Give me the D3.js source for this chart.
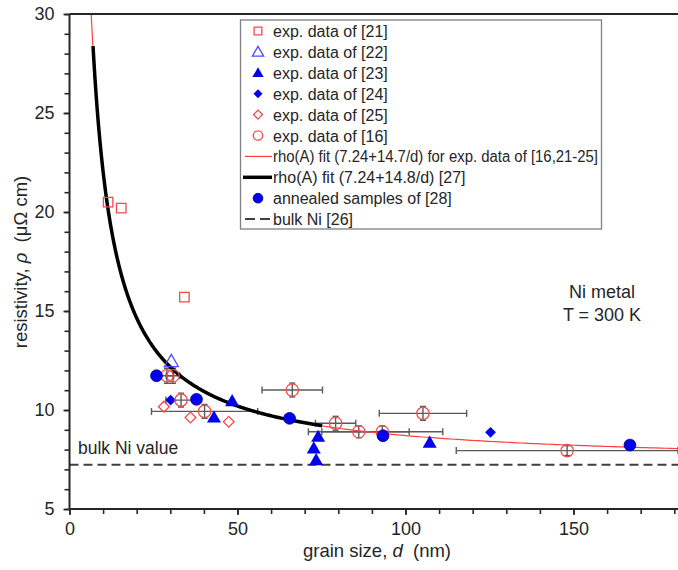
<!DOCTYPE html>
<html>
<head>
<meta charset="utf-8">
<script src="https://cdn.jsdelivr.net/npm/d3@7/dist/d3.min.js"></script>
<style>
  html, body { margin: 0; padding: 0; background: #fff; }
  svg { display: block; font-family: "Liberation Sans", Arial, sans-serif; }
</style>
</head>
<body>
<svg id="chart" width="678" height="570"></svg>
<script>
// Grain size d (nm) vs resistivity rho (µΩ cm) for Ni metal at 300 K
const data21 = [[11.5, 20.5], [15.4, 20.2], [34.2, 15.7]];
const data22 = [[30.3, 12.45]];
const data23 = [[43.0, 9.62], [48.4, 10.45], [74.0, 8.65], [72.7, 8.06], [73.4, 7.47], [107.2, 8.35]];
const data24 = [[30.1, 10.5], [125.3, 8.87]];
const data25 = [[28.1, 10.17], [36.0, 9.62], [47.4, 9.41]];
// [d, rho, d error, rho error]
const data16 = [
  [29.0, 11.73, 2, 0.38], [30.8, 11.73, 2, 0.38], [33.2, 10.5, 4.5, 0.35],
  [40.2, 9.93, 15.8, 0.35], [66.3, 11.01, 9, 0.35], [79.2, 9.33, 6, 0.35],
  [86.1, 8.9, 15, 0.3], [93.1, 8.9, 18, 0.3], [105.2, 9.83, 13, 0.35],
  [148.1, 7.95, 33, 0.25]
];
const data28 = [[25.9, 11.73], [37.8, 10.54], [65.5, 9.58], [93.3, 8.7], [166.8, 8.23]];
const fitA = { a: 7.24, b: 147, from: 6.4, to: 185 };
const fitB = { a: 7.24, b: 148, from: 7.0, to: 75.2 };
const bulkNi = 7.24;
const xTicks = [0, 50, 100, 150];
const yTicks = [5, 10, 15, 20, 25, 30];
const legendItems = [
  "exp. data of [21]", "exp. data of [22]", "exp. data of [23]", "exp. data of [24]",
  "exp. data of [25]", "exp. data of [16]",
  "rho(A) fit (7.24+14.7/d) for exp. data of [16,21-25]",
  "rho(A) fit (7.24+14.8/d) [27]", "annealed samples of [28]", "bulk Ni [26]"
];

const svg = d3.select("#chart");
const x = d3.scaleLinear().domain([0, 180]).range([69.5, 674.3]);
const y = d3.scaleLinear().domain([5, 30]).range([509, 14]);
const axisCol = "#262626";
const red = "#f24a4a";
const blue = "#0000ee";

svg.append("defs").append("clipPath").attr("id", "plotclip")
  .append("rect").attr("x", 69.5).attr("y", 14).attr("width", 608.5).attr("height", 495);

const plot = svg.append("g").attr("clip-path", "url(#plotclip)");

// top frame line
svg.append("line").attr("x1", 69.5).attr("x2", 678).attr("y1", 14).attr("y2", 14)
  .attr("stroke", axisCol).attr("stroke-width", 2);

// axes
const xAxisMinor = d3.axisBottom(x).tickValues(d3.range(0, 181, 10)).tickSize(5).tickFormat("");
const xAxis = d3.axisBottom(x).tickValues(xTicks).tickSize(6).tickPadding(7).tickFormat(d3.format("d"));
const yAxisMinor = d3.axisLeft(y).tickValues(d3.range(5, 31, 1)).tickSize(5).tickFormat("");
const yAxis = d3.axisLeft(y).tickValues(yTicks).tickSize(6).tickPadding(9).tickFormat(d3.format("d"));

function styleAxis(g) {
  g.select(".domain").remove();
  g.selectAll("line").attr("stroke", axisCol).attr("stroke-width", 1.6);
  g.selectAll("text").attr("fill", axisCol).attr("font-size", 18)
    .attr("font-family", "Liberation Sans, Arial, sans-serif");
}
svg.append("g").attr("transform", "translate(0,509)").call(xAxisMinor).call(styleAxis);
svg.append("g").attr("transform", "translate(0,509)").call(xAxis).call(styleAxis);
svg.append("g").attr("transform", "translate(69.5,0)").call(yAxisMinor).call(styleAxis);
svg.append("g").attr("transform", "translate(69.5,0)").call(yAxis).call(styleAxis);
svg.append("line").attr("x1", 69.5).attr("x2", 678).attr("y1", 509).attr("y2", 509)
  .attr("stroke", axisCol).attr("stroke-width", 2);
svg.append("line").attr("x1", 69.5).attr("x2", 69.5).attr("y1", 14).attr("y2", 509)
  .attr("stroke", axisCol).attr("stroke-width", 2);

// axis titles
const xt = svg.append("text").attr("x", 377).attr("y", 557).attr("text-anchor", "middle")
  .attr("font-size", 18.5).attr("fill", axisCol);
xt.append("tspan").text("grain size, ");
xt.append("tspan").attr("font-style", "italic").text("d");
xt.append("tspan").attr("xml:space", "preserve").text("  (nm)");

const yt = svg.append("text").attr("transform", "translate(27,262) rotate(-90)")
  .attr("text-anchor", "middle").attr("font-size", 18.5).attr("fill", axisCol);
yt.append("tspan").text("resistivity, ");
yt.append("tspan").attr("font-style", "italic").text("ρ");
yt.append("tspan").attr("xml:space", "preserve").text("  (μΩ cm)");

// bulk Ni reference
plot.append("line").attr("x1", x(0)).attr("x2", x(185)).attr("y1", y(bulkNi)).attr("y2", y(bulkNi))
  .attr("stroke", "#404040").attr("stroke-width", 2).attr("stroke-dasharray", "9,5");

// error bars
const eb = plot.append("g").attr("stroke", "#5a5a5a").attr("stroke-width", 1.4);
data16.forEach(([d, r, dx, dy]) => {
  eb.append("line").attr("x1", x(d - dx)).attr("x2", x(d + dx)).attr("y1", y(r)).attr("y2", y(r));
  eb.append("line").attr("x1", x(d - dx)).attr("x2", x(d - dx)).attr("y1", y(r) - 3.5).attr("y2", y(r) + 3.5);
  eb.append("line").attr("x1", x(d + dx)).attr("x2", x(d + dx)).attr("y1", y(r) - 3.5).attr("y2", y(r) + 3.5);
  eb.append("line").attr("x1", x(d)).attr("x2", x(d)).attr("y1", y(r - dy)).attr("y2", y(r + dy));
  eb.append("line").attr("x1", x(d) - 3).attr("x2", x(d) + 3).attr("y1", y(r - dy)).attr("y2", y(r - dy));
  eb.append("line").attr("x1", x(d) - 3).attr("x2", x(d) + 3).attr("y1", y(r + dy)).attr("y2", y(r + dy));
});

// fit curves
function fitPath(f) {
  const pts = d3.range(0, 401).map(i => {
    const d = f.from * Math.pow(f.to / f.from, i / 400);
    return [d, f.a + f.b / d];
  });
  return d3.line().x(p => x(p[0])).y(p => y(p[1]))(pts);
}
plot.append("path").attr("d", fitPath(fitA)).attr("fill", "none").attr("stroke", "#ff4040").attr("stroke-width", 1.2);
plot.append("path").attr("d", fitPath(fitB)).attr("fill", "none").attr("stroke", "#000").attr("stroke-width", 3.5);

// marker shapes (diamond = square turned 45 degrees)
const sym = {
  square: d3.symbol().type(d3.symbolSquare).size(90),
  triangle: d3.symbol().type(d3.symbolTriangle).size(85),
  diamond: d3.symbol().type(d3.symbolSquare).size(58),
  circleOpen: d3.symbol().type(d3.symbolCircle).size(120),
  circleFill: d3.symbol().type(d3.symbolCircle).size(110)
};
const markerStyles = [
  { data: data21, path: sym.square, fill: "none", stroke: red, sw: 1.3 },
  { data: data22, path: sym.triangle, fill: "none", stroke: "#4b4bff", sw: 1.3, dy: 1 },
  { data: data23, path: sym.triangle, fill: blue, stroke: "none", sw: 0, dy: 1 },
  { data: data24, path: sym.diamond, fill: blue, stroke: "none", sw: 0, rot: 45 },
  { data: data25, path: sym.diamond, fill: "none", stroke: red, sw: 1.3, rot: 45 },
  { data: data16, path: sym.circleOpen, fill: "none", stroke: red, sw: 1.3 },
  { data: data28, path: sym.circleFill, fill: blue, stroke: "#00008a", sw: 0.8 }
];
const mk = svg.append("g");
markerStyles.forEach(s => {
  mk.selectAll(null).data(s.data).enter().append("path")
    .attr("d", s.path())
    .attr("transform", p => `translate(${x(p[0])},${y(p[1]) + (s.dy || 0)}) rotate(${s.rot || 0})`)
    .attr("fill", s.fill).attr("stroke", s.stroke).attr("stroke-width", s.sw);
});

// annotations
const ann = svg.append("g").attr("fill", axisCol).attr("font-size", 18).attr("text-anchor", "middle");
ann.append("text").attr("x", 602).attr("y", 298).text("Ni metal");
ann.append("text").attr("x", 602).attr("y", 321).text("T = 300 K");
svg.append("text").attr("x", 78).attr("y", 454).attr("font-size", 17.5).attr("fill", axisCol).text("bulk Ni value");

// legend
const lg = svg.append("g");
lg.append("rect").attr("x", 240.5).attr("y", 20).attr("width", 361).attr("height", 209)
  .attr("fill", "#fff").attr("stroke", "#808080").attr("stroke-width", 1.3);
const rowY = i => 31 + i * 20.9;
const legendMarks = [
  { path: sym.square, fill: "none", stroke: red, sw: 1.3, size: 60 },
  { path: sym.triangle, fill: "none", stroke: "#4b4bff", sw: 1.3, size: 55 },
  { path: sym.triangle, fill: blue, stroke: "none", sw: 0, size: 55 },
  { path: sym.diamond, fill: blue, stroke: "none", sw: 0, size: 40, rot: 45 },
  { path: sym.diamond, fill: "none", stroke: red, sw: 1.3, size: 40, rot: 45 },
  { path: sym.circleOpen, fill: "none", stroke: red, sw: 1.3, size: 70 }
];
legendItems.forEach((t, i) => {
  const cy = rowY(i);
  if (i < 6) {
    const m = legendMarks[i];
    lg.append("path").attr("d", m.path.size(m.size)())
      .attr("transform", `translate(258,${cy + (i === 1 || i === 2 ? 1 : 0)}) rotate(${m.rot || 0})`)
      .attr("fill", m.fill).attr("stroke", m.stroke).attr("stroke-width", m.sw);
  } else if (i === 6) {
    lg.append("line").attr("x1", 245).attr("x2", 272).attr("y1", cy).attr("y2", cy)
      .attr("stroke", "#ff4040").attr("stroke-width", 1.2);
  } else if (i === 7) {
    lg.append("line").attr("x1", 243).attr("x2", 272).attr("y1", cy).attr("y2", cy)
      .attr("stroke", "#000").attr("stroke-width", 3.5);
  } else if (i === 8) {
    lg.append("path").attr("d", sym.circleFill.size(75)()).attr("transform", `translate(258,${cy})`)
      .attr("fill", blue).attr("stroke", "#00008a").attr("stroke-width", 0.8);
  } else {
    lg.append("line").attr("x1", 245).attr("x2", 272).attr("y1", cy).attr("y2", cy)
      .attr("stroke", "#404040").attr("stroke-width", 2).attr("stroke-dasharray", "10,5");
  }
  const tx = lg.append("text").attr("x", 273).attr("y", cy + 6).attr("font-size", 16)
    .attr("fill", "#262626").text(t);
  if (i === 6) tx.attr("textLength", 325).attr("lengthAdjust", "spacingAndGlyphs");
});
</script>
</body>
</html>
